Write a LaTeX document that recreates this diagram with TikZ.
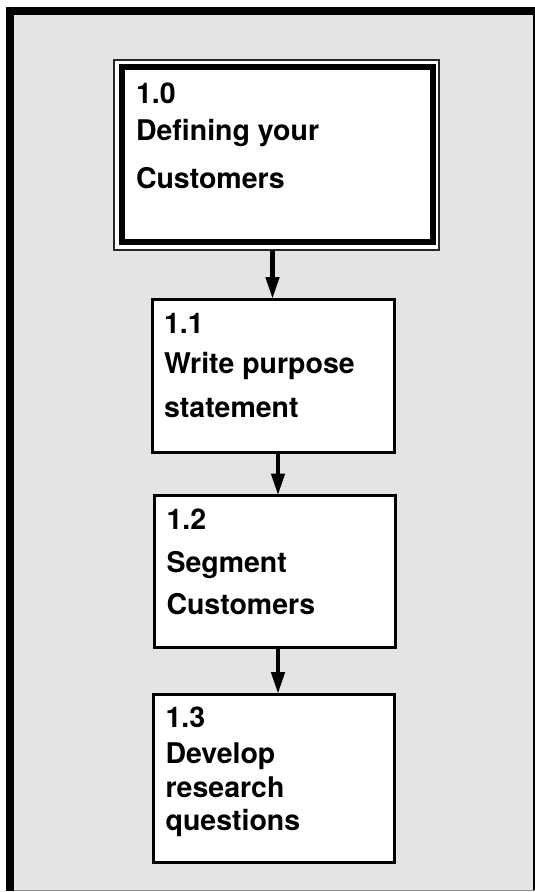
\documentclass[tikz,border=0pt]{standalone}
\usepackage{fontspec}
\setmainfont{TeX Gyre Heros}
\usetikzlibrary{arrows.meta}
\definecolor{panelgray}{RGB}{228,228,228}
\definecolor{edgegray}{RGB}{140,140,140}
\begin{document}
\begin{tikzpicture}[x=1pt,y=-1pt,
  stepbox/.style={draw=black, line width=3pt, fill=white, rectangle, outer sep=0pt, inner sep=0pt},
  label/.style={anchor=base west, inner sep=0pt, outer sep=0pt, font=\fontsize{28.5}{30}\selectfont\bfseries},
  flow/.style={draw=black, line width=4.5pt, -{Triangle[length=22pt,width=13pt]}, shorten >=0pt}
]
\useasboundingbox (0,0) rectangle (535,892);
% panel with its dark frame
\fill[white] (0,0) rectangle (535,892);
\fill[panelgray] (6,7) rectangle (535,891);
\fill[black] (6,7) rectangle (535,15);
\fill[black] (6,7) rectangle (14,891);
\fill[black] (533.3,7) rectangle (535,891);
\fill[edgegray] (14,889.6) rectangle (535,891);

% top-level process: double frame
\node[draw=black!85, line width=1.2pt, fill=white, rectangle, outer sep=0pt, inner sep=0pt,
      minimum width=325pt, minimum height=190pt] (b0) at (276.5,155) {};
\node[draw=black, line width=6pt, rectangle, outer sep=0pt, inner sep=0pt,
      minimum width=310.5pt, minimum height=174.5pt] (b0in) at (277.25,154.25) {};
\node[label] (t0a) at (136,103) {1.0};
\node[label] (t0b) at (136,140) {Defining your};
\node[label] (t0c) at (136,188) {Customers};

% sub-steps
\node[stepbox, minimum width=242pt, minimum height=153pt] (b1) at (273,375.5) {};
\node[label] (t1a) at (164,333) {1.1};
\node[label] (t1b) at (164,373) {Write purpose};
\node[label] (t1c) at (164,417) {statement};

\node[stepbox, minimum width=241pt, minimum height=152pt] (b2) at (275,571.5) {};
\node[label] (t2a) at (166.5,529) {1.2};
\node[label] (t2b) at (166.5,572) {Segment};
\node[label] (t2c) at (166.5,614) {Customers};

\node[stepbox, minimum width=241pt, minimum height=168.5pt] (b3) at (274,778.25) {};
\node[label] (t3a) at (165.5,727) {1.3};
\node[label] (t3b) at (165.5,763) {Develop};
\node[label] (t3c) at (165.5,797) {research};
\node[label] (t3d) at (165.5,830) {questions};

% connectors
\draw[flow] ([xshift=-4pt]b0.south) -- ([xshift=-0.5pt]b1.north);
\draw[flow] ([xshift=5pt]b1.south) -- ([xshift=3pt]b2.north);
\draw[flow] ([xshift=3pt]b2.south) -- ([xshift=4pt]b3.north);
\end{tikzpicture}
\end{document}
